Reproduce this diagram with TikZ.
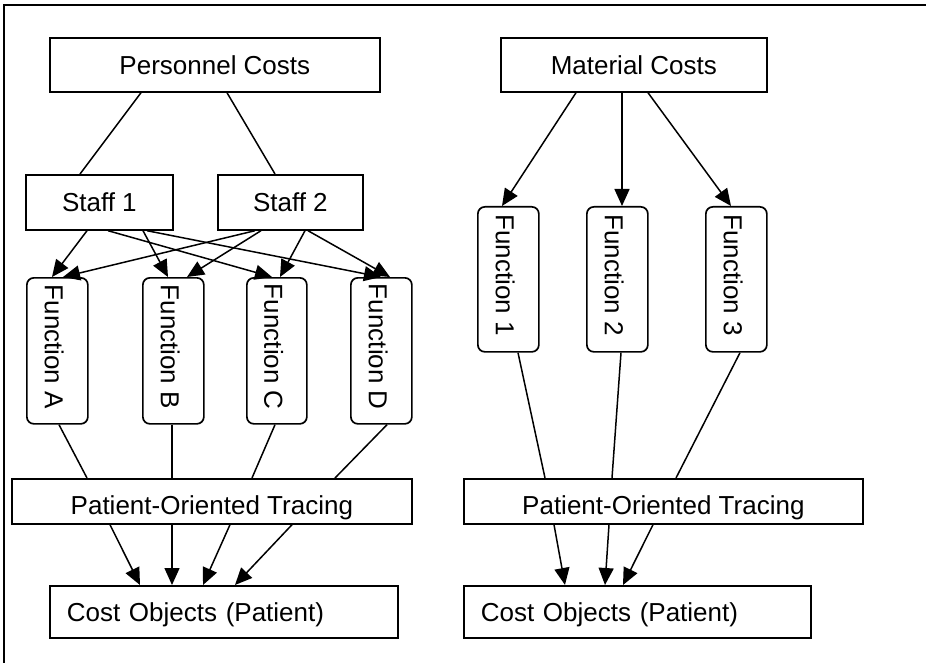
\documentclass[tikz,border=0pt]{standalone}
\usepackage{fontspec}
\usepackage{graphicx}
\setmainfont{Liberation Sans}
\usetikzlibrary{arrows.meta}
\newcommand\fnlabel[1]{\rotatebox{-90}{\rule{0pt}{25pt}#1\hspace{8pt}}}
\begin{document}
\begin{tikzpicture}[x=1pt,y=-1pt,
  basebox/.style={draw, line width=1.7pt, inner sep=0pt, anchor=north west,
    font=\fontsize{26}{30}\selectfont},
  box/.style={basebox, text height=18.6pt, text depth=0pt},
  fbox/.style={basebox, rounded corners=7pt, minimum width=61pt, minimum height=146pt},
  conn/.style={line width=1.5pt},
  arr/.style={conn, -{Triangle[length=17pt,width=15pt]}}]
\useasboundingbox (0,0) rectangle (926,663);
\draw[line width=2pt] (4,663) -- (4,5) -- (926,5);

% left panel
\node[box, minimum width=330pt, minimum height=54pt] (pc) at (49,37) {Personnel Costs};
\node[box, minimum width=147pt, minimum height=55pt] (s1) at (25,174) {Staff 1};
\node[box, minimum width=145pt, minimum height=55pt] (s2) at (217,174) {Staff 2};
\node[fbox] (fa) at (26,277) {\fnlabel{Function A}};
\node[fbox] (fb) at (142,277) {\fnlabel{Function B}};
\node[fbox, minimum width=60pt] (fc) at (246,277) {\fnlabel{Function C}};
\node[fbox] (fd) at (350,277) {\fnlabel{Function D}};
\node[box, minimum width=400pt, minimum height=45pt, text height=25.6pt] (tl) at (11,478) {Patient-Oriented Tracing};
\node[box, minimum width=348pt, minimum height=52pt, text width=314pt, align=left, inner xsep=17pt] (cl) at (49,585) {Cost Objects (Patient)};

\draw[conn] ([xshift=92pt]pc.south west) -- ([xshift=55pt]s1.north west);
\draw[conn] ([xshift=178pt]pc.south west) -- ([xshift=58pt]s2.north west);

\draw[arr] ([xshift=62pt]s1.south west) -- ([xshift=26pt]fa.north west);
\draw[arr] ([xshift=83pt]s1.south west) -- ([xshift=26pt]fc.north west);
\draw[arr] ([xshift=118pt]s1.south west) -- ([xshift=26pt]fb.north west);
\draw[arr] ([xshift=122pt]s1.south west) -- ([xshift=31pt]fd.north west);
\draw[arr] ([xshift=38pt]s2.south west) -- ([xshift=37pt]fa.north west);
\draw[arr] ([xshift=44pt]s2.south west) -- ([xshift=45pt]fb.north west);
\draw[arr] ([xshift=88pt]s2.south west) -- ([xshift=34pt]fc.north west);
\draw[arr] ([xshift=91pt]s2.south west) -- ([xshift=40pt]fd.north west);

\draw[conn] ([xshift=33pt]fa.south west) -- ([xshift=76pt]tl.north west);
\draw[conn] ([xshift=30pt]fb.south west) -- ([xshift=161pt]tl.north west);
\draw[conn] ([xshift=29pt]fc.south west) -- ([xshift=241pt]tl.north west);
\draw[conn] ([xshift=37pt]fd.south west) -- ([xshift=324pt]tl.north west);

\draw[arr] ([xshift=99pt]tl.south west) -- ([xshift=91pt]cl.north west);
\draw[arr] ([xshift=161pt]tl.south west) -- ([xshift=123pt]cl.north west);
\draw[arr] ([xshift=219pt]tl.south west) -- ([xshift=154pt]cl.north west);
\draw[arr] ([xshift=281pt]tl.south west) -- ([xshift=186pt]cl.north west);

% right panel
\node[box, minimum width=266pt, minimum height=54pt] (mc) at (500,37) {Material Costs};
\node[fbox, minimum height=145pt] (f1) at (477,206) {\fnlabel{Function 1}};
\node[fbox, minimum height=145pt] (f2) at (586,206) {\fnlabel{Function 2}};
\node[fbox, minimum height=145pt] (f3) at (705,206) {\fnlabel{Function 3}};
\node[box, minimum width=399pt, minimum height=45pt, text height=25.6pt] (tr) at (463,478) {Patient-Oriented Tracing};
\node[box, minimum width=347pt, minimum height=52pt, text width=313pt, align=left, inner xsep=17pt] (cr) at (463,585) {Cost Objects (Patient)};

\draw[arr] ([xshift=76pt]mc.south west) -- ([xshift=25pt]f1.north west);
\draw[arr] ([xshift=122pt]mc.south west) -- ([xshift=36pt]f2.north west);
\draw[arr] ([xshift=148pt]mc.south west) -- ([xshift=26pt]f3.north west);

\draw[conn] ([xshift=41pt]f1.south west) -- ([xshift=82pt]tr.north west);
\draw[conn] ([xshift=35pt]f2.south west) -- ([xshift=149pt]tr.north west);
\draw[conn] ([xshift=35pt]f3.south west) -- ([xshift=213pt]tr.north west);

\draw[arr] ([xshift=91pt]tr.south west) -- ([xshift=102pt]cr.north west);
\draw[arr] ([xshift=146pt]tr.south west) -- ([xshift=142pt]cr.north west);
\draw[arr] ([xshift=190pt]tr.south west) -- ([xshift=160pt]cr.north west);
\end{tikzpicture}
\end{document}
